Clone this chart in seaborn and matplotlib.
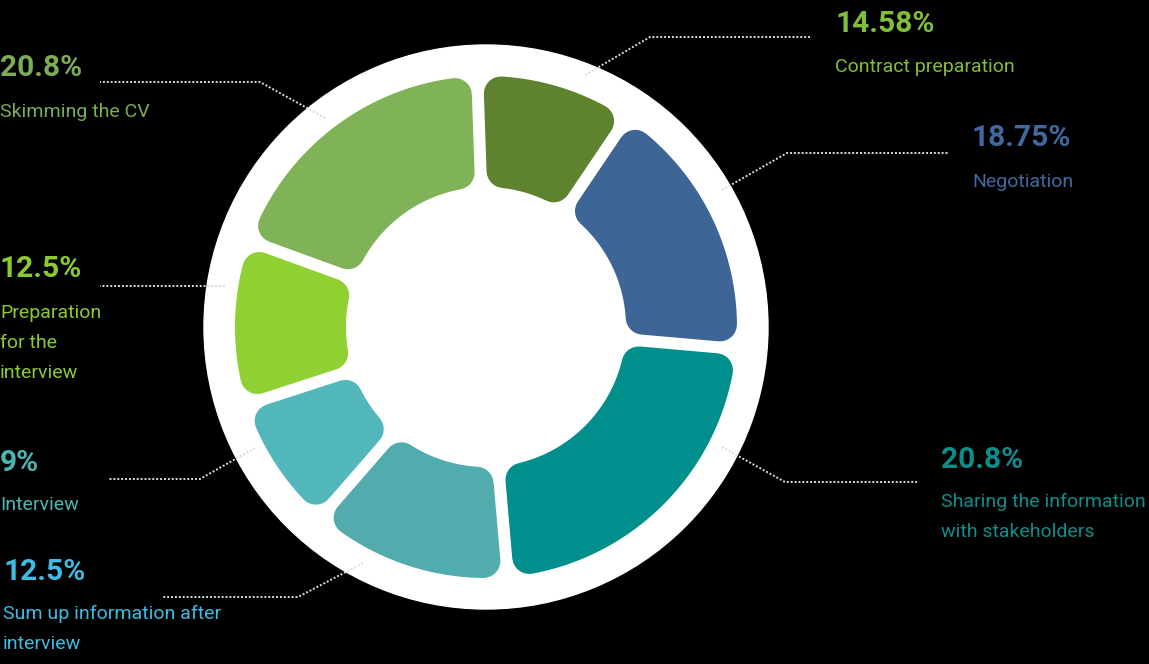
import numpy as np
import matplotlib
matplotlib.use("Agg")
import matplotlib.pyplot as plt
from matplotlib.patches import Circle, Polygon
import seaborn as sns

# Data
categories = ["Contract preparation", "Negotiation", "Sharing the information\nwith stakeholders",
              "Sum up information after\ninterview", "Interview", "Preparation\nfor the\ninterview",
              "Skimming the CV"]
percent_labels = ["14.58%", "18.75%", "20.8%", "12.5%", "9%", "12.5%", "20.8%"]
# share of the ring each slice takes in the drawing (not proportional to the labels)
arc_shares = [36, 61, 80, 46, 31, 38, 68]
slice_colors = ["#5e822e", "#3d6596", "#008f8c", "#52abad", "#52b7ba", "#8fd032", "#80b257"]
text_colors = ["#80bf3a", "#4169a0", "#0d8e8b", "#3dbde3", "#4db6b4", "#8ccb2f", "#7aad55"]

# Layout (pixels)
cx, cy = 486, 327
R_disc, r_out, r_in = 282, 251, 140
gap, rc = 12, 17
start_angle = -2

# text anchor (x, baseline of percent, baseline of first label line) and leader line points
text_pos = [(835, 32, 72), (972, 146, 187), (941, 468, 507), (3, 580, 619),
            (0, 471, 510), (0, 277, 318), (0, 76, 117)]
leaders = [[(585, 75), (650, 37), (812, 37)],
           [(722, 190), (787, 153), (948, 153)],
           [(722, 447), (785, 482), (917, 482)],
           [(363, 563), (298, 597), (162, 597)],
           [(255, 448), (200, 479), (108, 479)],
           [(225, 286), (100, 286)],
           [(325, 118), (260, 82), (100, 82)]]

sns.set_theme(style="white")
plt.rcParams['font.family'] = ['Roboto', 'DejaVu Sans']

fig = plt.figure(figsize=(11.49, 6.64), dpi=100, facecolor="black")
ax = fig.add_axes([0, 0, 1, 1])
ax.set_facecolor("black")
ax.set_xlim(0, 1149)
ax.set_ylim(664, 0)
ax.set_aspect("equal")
ax.axis("off")

ax.add_patch(Circle((cx, cy), R_disc, color="white", zorder=1))


def ring_point(r, deg):
    t = np.radians(deg)
    return cx + r * np.sin(t), cy - r * np.cos(t)


bounds = start_angle + np.concatenate([[0], np.cumsum(arc_shares)]) / sum(arc_shares) * 360
d = gap / 2 + rc
ro, ri = r_out - rc, r_in + rc
lw = 2 * rc * 72 / fig.dpi
for i, col in enumerate(slice_colors):
    a1, a2 = bounds[i], bounds[i + 1]
    to = np.linspace(a1 + np.degrees(np.arcsin(d / ro)), a2 - np.degrees(np.arcsin(d / ro)), 60)
    ti = np.linspace(a2 - np.degrees(np.arcsin(d / ri)), a1 + np.degrees(np.arcsin(d / ri)), 60)
    pts = [ring_point(ro, t) for t in to] + [ring_point(ri, t) for t in ti]
    ax.add_patch(Polygon(pts, closed=True, facecolor=col, edgecolor=col, linewidth=lw,
                         joinstyle="round", zorder=2))

for i in range(len(categories)):
    xs, ys = zip(*leaders[i])
    ax.plot(xs, ys, color="#dcdcdc", lw=1.4, ls=(0, (1, 1)), zorder=3)
    x, yb, yl = text_pos[i]
    ax.text(x, yb, percent_labels[i], color=text_colors[i], fontsize=21.5, fontweight="bold",
            ha="left", va="baseline", zorder=4)
    for j, line in enumerate(categories[i].split("\n")):
        ax.text(x, yl + 30 * j, line, color=text_colors[i], fontsize=14,
                ha="left", va="baseline", zorder=4)

fig.savefig("out.png", dpi=100, facecolor="black")
